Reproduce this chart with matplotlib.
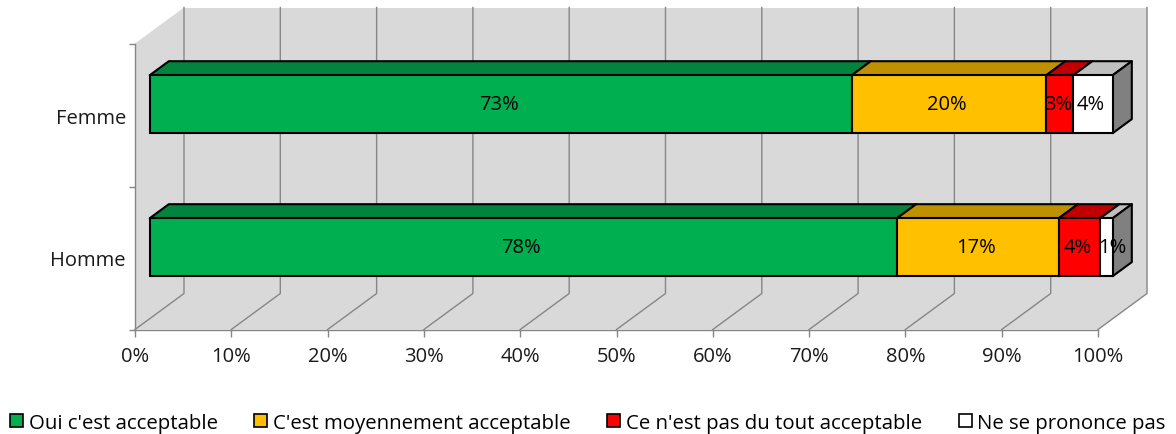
import matplotlib
matplotlib.use("Agg")
import matplotlib.pyplot as plt
from matplotlib.patches import Patch

plt.rcParams['font.family'] = ['Open Sans', 'DejaVu Sans']

categories = ['Homme', 'Femme']
series_names = ["Oui c'est acceptable", "C'est moyennement acceptable",
                "Ce n'est pas du tout acceptable", "Ne se prononce pas"]
oui = [77.6, 72.9]
moyen = [16.8, 20.2]
pas_du_tout = [4.3, 2.8]
ne_se_prononce = [1.3, 4.1]
labels_oui = ['78%', '73%']
labels_moyen = ['17%', '20%']
labels_pas = ['4%', '3%']
labels_ne = ['1%', '4%']

series = [oui, moyen, pas_du_tout, ne_se_prononce]
series_labels = [labels_oui, labels_moyen, labels_pas, labels_ne]
front_colors = ['#00B050', '#FFC000', '#FF0000', '#FFFFFF']
top_colors = ['#03843E', '#BF9000', '#C00000', '#BFBFBF']
x_ticks = [0, 10, 20, 30, 40, 50, 60, 70, 80, 90, 100]
x_labels = ['0%', '10%', '20%', '30%', '40%', '50%', '60%', '70%', '80%', '90%', '100%']

# chart box depth, expressed in axis units
depth_x = 49 / 9.63
depth_y = 36 / 143.0


def proj(x, y, z):
    return x + z * depth_x, y + z * depth_y


def face(ax, pts, color, edge='none', lw=0, zorder=1):
    xs = [p[0] for p in pts]
    ys = [p[1] for p in pts]
    ax.fill(xs, ys, facecolor=color, edgecolor=edge, linewidth=lw, zorder=zorder,
            clip_on=False, joinstyle='round')


fig = plt.figure(figsize=(11.76, 4.35), dpi=100)
ax = fig.add_axes([135 / 1176, 104.5 / 435, 963 / 1176, 286 / 435])
ax.set_xlim(0, 100)
ax.set_ylim(0, 2)
ax.patch.set_visible(False)

grey = '#868686'

# walls and floor
face(ax, [proj(0, 0, 0), proj(100, 0, 0), proj(100, 0, 1), proj(0, 0, 1)], '#D9D9D9')
face(ax, [proj(0, 0, 0), proj(0, 0, 1), proj(0, 2, 1), proj(0, 2, 0)], '#D9D9D9')
face(ax, [proj(0, 0, 1), proj(100, 0, 1), proj(100, 2, 1), proj(0, 2, 1)], '#D9D9D9')

# gridlines on back wall and floor
for t in x_ticks:
    a = proj(t, 0, 0)
    b = proj(t, 0, 1)
    c = proj(t, 2, 1)
    ax.plot([a[0], b[0], c[0]], [a[1], b[1], c[1]], color=grey, lw=1, zorder=2, clip_on=False)

# stacked bars
z_front = 0.30
z_back = 0.69
bar_h = 0.405
for row, cat in enumerate(categories):
    y_mid = row + 0.5
    left = 0
    for s, vals in enumerate(series):
        v = vals[row]
        fx, fy = proj(left, y_mid, z_front)
        bars = ax.barh(fy, v, height=bar_h, left=fx, color=front_colors[s], edgecolor='black',
                       linewidth=1.5, zorder=5, clip_on=False)
        top = y_mid + bar_h / 2
        face(ax, [proj(left, top, z_front), proj(left + v, top, z_front),
                  proj(left + v, top, z_back), proj(left, top, z_back)],
             top_colors[s], edge='black', lw=1.5, zorder=4)
        # excel pushes the labels a bit left, the tiny 1% one goes right
        nudge = 0.6 if series_labels[s][row] == '1%' else -0.2
        txt = ax.text(fx + v / 2 + nudge, fy, series_labels[s][row], ha='center', va='center',
                      fontsize=14.5, color='black', zorder=6, clip_on=False)
        if series_labels[s][row] == '3%':
            txt.set_clip_on(True)
            txt.set_clip_path(bars[0])
        left += v
    bottom = y_mid - bar_h / 2
    top = y_mid + bar_h / 2
    face(ax, [proj(left, bottom, z_front), proj(left, top, z_front),
              proj(left, top, z_back), proj(left, bottom, z_back)],
         '#808080', edge='black', lw=1.5, zorder=4)

# axes
for name in ['top', 'right']:
    ax.spines[name].set_visible(False)
for name in ['left', 'bottom']:
    ax.spines[name].set_color(grey)
    ax.spines[name].set_linewidth(1)
    ax.spines[name].set_zorder(3)

ax.set_xticks(x_ticks)
ax.set_xticklabels(x_labels, fontsize=14.5, color='#1a1a1a')
ax.tick_params(axis='x', length=5, width=1, color=grey, pad=7)
ax.set_yticks([0, 1, 2])
ax.set_yticklabels(['', '', ''])
ax.tick_params(axis='y', length=4, width=1, color=grey)
ax.set_yticks([0.5, 1.5], minor=True)
ax.set_yticklabels(categories, minor=True, fontsize=14.5, color='#1a1a1a')
ax.tick_params(axis='y', which='minor', length=0, pad=6.5)

handles = [Patch(facecolor=c, edgecolor='black', linewidth=1.2) for c in front_colors]
fig.legend(handles, series_names, loc='center left', bbox_to_anchor=(10 / 1176, 1 - 424 / 435),
           ncol=4, frameon=False, fontsize=14.7, handlelength=0.63, handleheight=0.63,
           handletextpad=0.28, columnspacing=1.8, borderpad=0, borderaxespad=0)

fig.savefig('out.png', dpi=100)
